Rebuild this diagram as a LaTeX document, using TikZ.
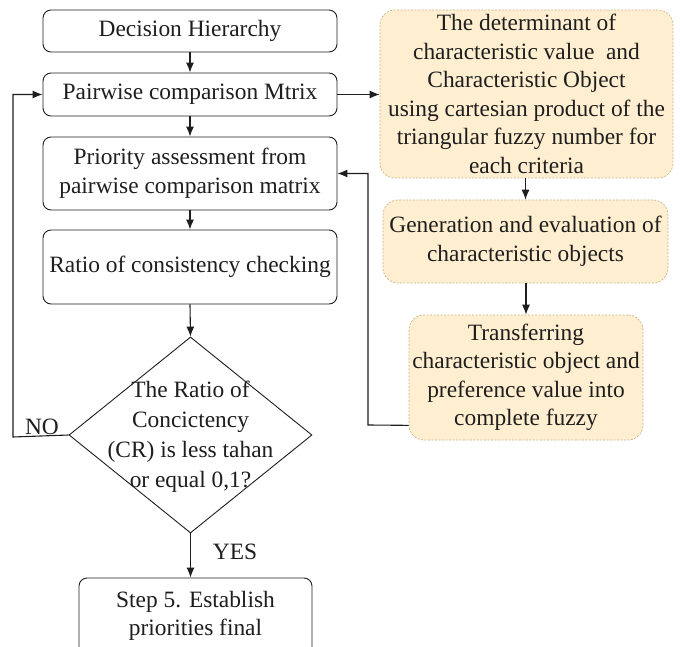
\documentclass[tikz,border=0pt]{standalone}
\usepackage{fontspec}
\setmainfont{Liberation Serif}
\usetikzlibrary{arrows.meta,shapes.geometric}
\definecolor{boxfill}{HTML}{FFEFD0}
\definecolor{boxline}{HTML}{C9B68A}
\definecolor{ink}{HTML}{1E1E1E}
\begin{document}
\begin{tikzpicture}[x=1pt,y=-1pt,
  every node/.style={font=\rmfamily\fontsize{23.4}{28.5}\selectfont, text=ink, inner sep=0pt, align=center},
  mainbox/.style={draw=ink, line width=0.9pt, rounded corners=8pt, rectangle},
  sidebox/.style={draw=boxline, fill=boxfill, dashed, dash pattern=on 2pt off 1.5pt, line width=0.7pt, rounded corners=15pt, rectangle},
  conn/.style={draw=ink, line width=1.1pt, -{Latex[length=10pt,width=8pt]}},
  plain/.style={draw=ink, line width=1pt}]
\useasboundingbox[fill=white] (0,0) rectangle (680,647);

% main column
\node[mainbox, minimum width=294pt, minimum height=42pt] (dh) at (190,31) {Decision Hierarchy};
\node[mainbox, minimum width=294pt, minimum height=43pt] (pc) at (190,94.5) {Pairwise comparison Mtrix};
\node[mainbox, minimum width=294pt, minimum height=73pt] (pa) at (190,173.5) {Priority assessment from\\pairwise comparison matrix};
\node[mainbox, minimum width=294pt, minimum height=74pt] (rc) at (190,267) {Ratio of consistency checking};
\node[diamond, draw=ink, line width=0.9pt, minimum width=243pt, minimum height=196pt] (dia) at (190.5,435) {};
\node[font=\rmfamily\fontsize{23.4}{30}\selectfont] (diat) at (190.5,437) {The Ratio of\\Concictency\\(CR) is less tahan\\or equal 0,1?};
\node[mainbox, minimum width=233pt, minimum height=78pt] (fin) at (195.5,617) {};
\node[anchor=north] (fint) at (195.5,591) {Step 5. Establish\\priorities final};

% side column
\node[sidebox, minimum width=293pt, minimum height=168pt] (r1) at (526.5,94) {The determinant of\\characteristic value\ \ and\\Characteristic Object\\using cartesian product of the\\triangular fuzzy number for\\each criteria};
\node[sidebox, minimum width=285pt, minimum height=83pt] (r2) at (525.5,241.5) {Generation and evaluation of\\characteristic objects};
\node[sidebox, minimum width=234pt, minimum height=125pt] (r3) at (526,377.5) {Transferring\\characteristic object and\\preference value into\\complete fuzzy};

% labels
\node (no) at (42,427) {NO};
\node (yes) at (235,552) {YES};

% connectors
\draw[conn] (dh.south) -- (pc.north);
\draw[conn] (pc.south) -- (pa.north);
\draw[conn] (pa.south) -- (rc.north);
\draw[conn] (rc.south) -- (dia.north);
\draw[conn] (dia.south) -- (dia.south |- fin.north);
\draw[conn] (pc.east) -- (r1.west |- pc.east);
\draw[conn] (r1.south -| r2.north) -- (r2.north);
\draw[conn] (r2.south -| r3.north) -- (r3.north);
\coordinate (nol) at (13,437);
\draw[conn] (dia.west) -- (nol) |- (pc.west);
\coordinate (fb) at ([yshift=15pt]r3.south west);
\coordinate (fbx) at (368,425);
\draw[conn] (fb) -- (fbx) |- (pa.east);
\end{tikzpicture}
\end{document}
